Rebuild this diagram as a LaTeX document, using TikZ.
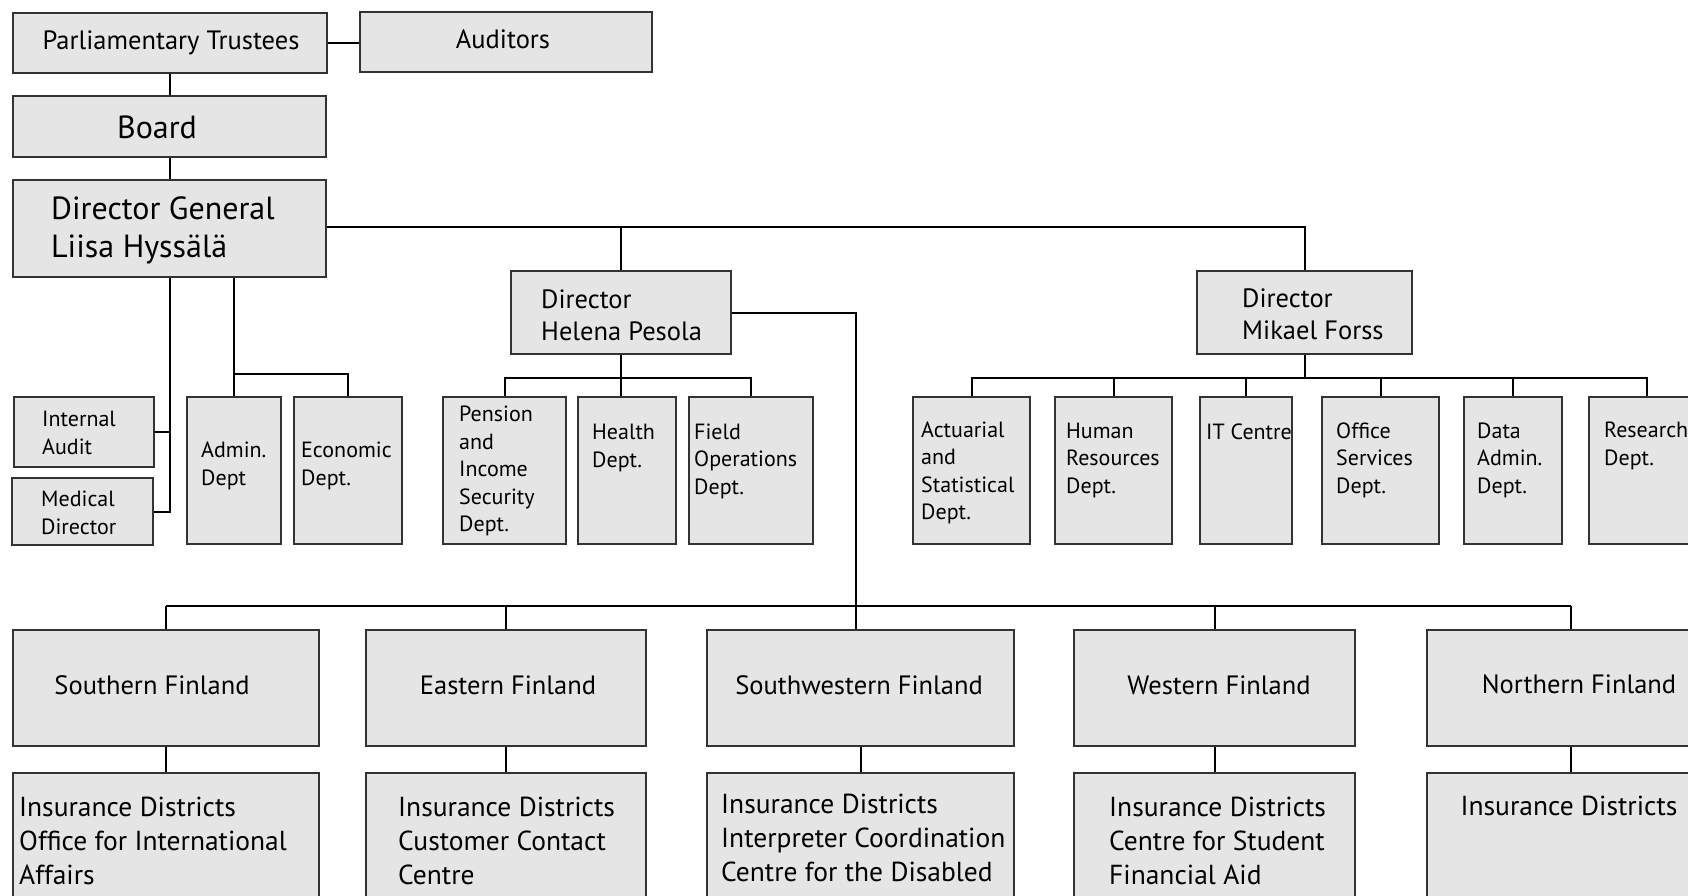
\documentclass[tikz,border=0pt]{standalone}
\usepackage{fontspec}
\setmainfont{PT Sans}
\begin{document}
\begin{tikzpicture}[x=1pt,y=-1pt,
  box/.style={draw=black!80,fill=black!10,line width=1.3pt,inner sep=0pt,rectangle},
  conn/.style={draw=black,line width=2pt},
  tl/.style={inner sep=0pt,align=left,anchor=west},
  tc/.style={inner sep=0pt,align=center},
  fa/.style={font=\fontsize{26.5}{32}\selectfont},
  fb/.style={font=\fontsize{32}{38}\selectfont},
  fs/.style={font=\fontsize{22}{27.5}\selectfont},
  fr/.style={font=\fontsize{26.5}{32}\selectfont},
  fd/.style={font=\fontsize{27.5}{34}\selectfont}]
\useasboundingbox (0,0) rectangle (1688,896);
\newcommand\bx[5]{\node[box,minimum width={#4-#2},minimum height={#5-#3}] (#1) at ({(#2+#4)/2},{(#3+#5)/2}) {};}
% top
\bx{pt}{13}{13}{327}{73}
\bx{aud}{360}{12}{652}{72}
\bx{bo}{13}{96}{326}{157}
\bx{dg}{13}{180}{326}{277}
\bx{hp}{511}{271}{731}{354}
\bx{mf}{1197}{271}{1412}{354}
% left small
\bx{ia}{14}{397}{154}{467}
\bx{md}{12}{478}{153}{545}
\bx{ad}{187}{397}{281}{544}
\bx{ec}{294}{397}{402}{544}
% Helena children
\bx{pe}{443}{397}{566}{544}
\bx{he}{578}{397}{676}{544}
\bx{fo}{689}{397}{813}{544}
% Mikael children
\bx{ac}{913}{397}{1030}{544}
\bx{hr}{1055}{397}{1172}{544}
\bx{it}{1200}{397}{1292}{544}
\bx{os}{1322}{397}{1439}{544}
\bx{da}{1464}{397}{1562}{544}
\bx{re}{1589}{397}{1705}{544}
% regions
\bx{sr}{13}{630}{319}{746}
\bx{er}{366}{630}{646}{746}
\bx{swr}{707}{630}{1014}{746}
\bx{wr}{1074}{630}{1355}{746}
\bx{nr}{1427}{630}{1715}{746}
\bx{sb}{13}{773}{319}{910}
\bx{eb}{366}{773}{646}{910}
\bx{swb}{707}{773}{1014}{910}
\bx{wb}{1074}{773}{1355}{910}
\bx{nb}{1427}{773}{1715}{910}
% bus coordinates
\coordinate (dgbus) at (0,227);
\coordinate (adbus) at (0,374);
\coordinate (hbus) at (0,378);
\coordinate (rbus) at (0,606);
\coordinate (hdrop) at (856,0);
% connectors
\draw[conn] (pt.east) -- (pt.east -| aud.west);
\draw[conn] (pt.south) -- (pt.south |- bo.north);
\draw[conn] (bo.south) -- (bo.south |- dg.north);
\draw[conn] (dg.east |- dgbus) -| (mf.north);
\draw[conn] (hp.north |- dgbus) -- (hp.north);
\draw[conn] (dg.south) -- (dg.south |- md.east) -- (md.east);
\draw[conn] (ia.east) -- (ia.east -| dg.south);
\draw[conn] (ad.north |- dg.south) -- (ad.north);
\draw[conn] (ad.north |- adbus) -| (ec.north);
\draw[conn] (hp.south) -- (hp.south |- he.north);
\draw[conn] (pe.north) -- (pe.north |- hbus) -- (fo.north |- hbus) -- (fo.north);
\draw[conn] (mf.south) -- (mf.south |- hbus);
\draw[conn] (ac.north) -- (ac.north |- hbus) -- (re.north |- hbus) -- (re.north);
\foreach \n in {hr,it,os,da} \draw[conn] (\n.north) -- (\n.north |- hbus);
\draw[conn] (hp.east) -| (hdrop |- swr.north);
\draw[conn] (sr.north |- rbus) -- (nr.north |- rbus);
\foreach \n in {sr,er,wr,nr} \draw[conn] (\n.north) -- (\n.north |- rbus);
\draw[conn] (sr.south) -- (sr.south |- sb.north);
\draw[conn] (er.south) -- (er.south |- eb.north);
\draw[conn] (swr.south) -- (swr.south |- swb.north);
\draw[conn] (wr.south) -- (wr.south |- wb.north);
\draw[conn] (nr.south) -- (nr.south |- nb.north);
% texts
\node[tc,fa] (tpt) at (171,43) {Parliamentary Trustees};
\node[tc,fa] (taud) at (503,39) {Auditors};
\node[tc,fb] (tbo) at (157,127) {Board};
\node[tl,fb] (tdg) at (51,230) {Director General\\Liisa Hyssälä};
\node[tl,fa] (thp) at (541,315) {Director\\Helena Pesola};
\node[tl,fa] (tmf) at (1242,314) {Director\\Mikael Forss};
\node[tl,fs] (tia) at (42,433) {Internal\\Audit};
\node[tl,fs] (tmd) at (41,513) {Medical\\Director};
\node[tl,fs] (tad) at (201,466) {Admin.\\Dept};
\node[tl,fs] (tec) at (301,466) {Economic\\Dept.};
\node[tl,fs] (tpe) at (459,471) {Pension\\and\\Income\\Security\\Dept.};
\node[tl,fs] (the) at (592,448) {Health\\Dept.};
\node[tl,fs] (tfo) at (694,461) {Field\\Operations\\Dept.};
\node[tl,fs] (tac) at (921,473) {Actuarial\\and\\Statistical\\Dept.};
\node[tl,fs] (thr) at (1066,460) {Human\\Resources\\Dept.};
\node[tl,fs] (tit) at (1206,432) {IT Centre};
\node[tl,fs] (tos) at (1336,460) {Office\\Services\\Dept.};
\node[tl,fs] (tda) at (1477,460) {Data\\Admin.\\Dept.};
\node[tl,fs] (tre) at (1604,446) {Research\\Dept.};
\node[tc,fr] (tsr) at (152,685) {Southern Finland};
\node[tc,fr] (ter) at (508,685) {Eastern Finland};
\node[tc,fr] (tswr) at (859,685) {Southwestern Finland};
\node[tc,fr] (twr) at (1219,685) {Western Finland};
\node[tc,fr] (tnr) at (1579,684) {Northern Finland};
\node[tl,fd] (tsb) at (19,841) {Insurance Districts\\Office for International\\Affairs};
\node[tl,fd] (teb) at (398,841) {Insurance Districts\\Customer Contact\\Centre};
\node[tl,fd] (tswb) at (721,838) {Insurance Districts\\Interpreter Coordination\\Centre for the Disabled};
\node[tl,fd] (twb) at (1109,841) {Insurance Districts\\Centre for Student\\Financial Aid};
\node[tc,fd] (tnb) at (1569,806) {Insurance Districts};
\end{tikzpicture}
\end{document}
